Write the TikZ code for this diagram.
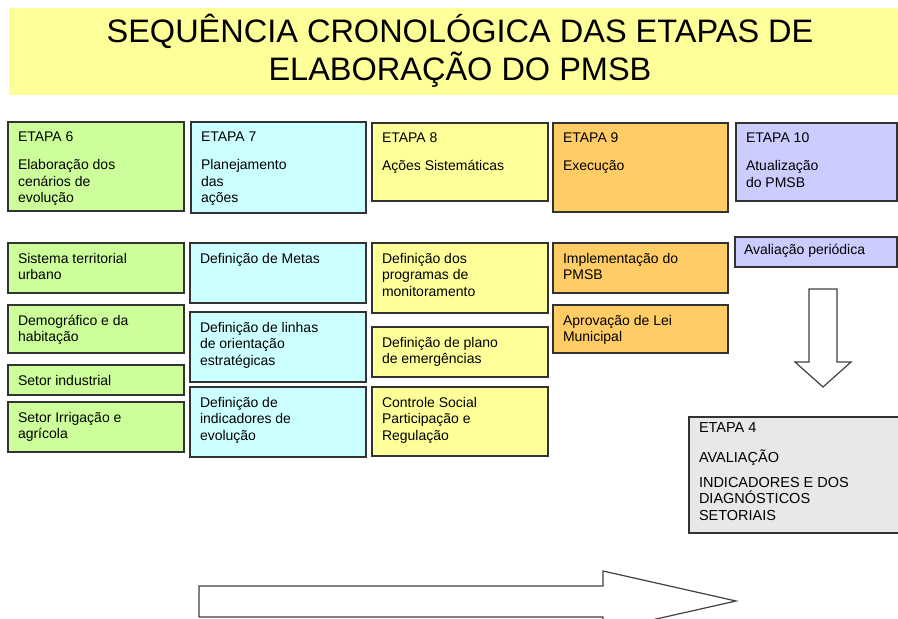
\documentclass[tikz,border=0pt]{standalone}
\usepackage{fontspec}
\setmainfont{Liberation Sans}
\definecolor{titleyel}{HTML}{FFFF99}
\definecolor{cgreen}{HTML}{CCFF99}
\definecolor{ccyan}{HTML}{CCFFFF}
\definecolor{cyel}{HTML}{FFFF99}
\definecolor{corange}{HTML}{FFCC66}
\definecolor{clav}{HTML}{CCCCFF}
\definecolor{cgray}{HTML}{E8E8E8}
\newcommand\mybox[7]{%
  \node[box, fill=#6, minimum width={(#4-#2)*1pt}, minimum height={(#5-#3)*1pt}] (#1) at (#2,#3) {};
  \node[txt] (#1t) at ([xshift=10pt,yshift=-10pt]#1.north west) {#7};
}
\begin{document}
\begin{tikzpicture}[x=1pt,y=-1pt,
  box/.style={draw=black!80, line width=1.1pt, inner sep=0pt, outer sep=0pt, anchor=north west},
  txt/.style={inner sep=0pt, outer sep=0pt, anchor=north west, align=left, font=\fontsize{14}{16.5}\selectfont},
  bigarrow/.style={draw=black!75, line width=1.2pt, fill=white, line join=miter},
  titletxt/.style={font=\fontsize{32.5}{38}\selectfont, anchor=base, inner sep=0pt}]
\useasboundingbox (0,0) rectangle (898,619);
\clip (0,0) rectangle (898,619);
\node[fill=titleyel, anchor=north west, inner sep=0pt, minimum width=889pt, minimum height=87pt] (band) at (9,8) {};
\node[titletxt] (t1) at (460,42) {SEQUÊNCIA CRONOLÓGICA DAS ETAPAS DE};
\node[titletxt] (t2) at (460,80) {ELABORAÇÃO DO PMSB};
% top row
\mybox{b6}{8}{122}{184}{211}{cgreen}{ETAPA 6\\[11.5pt]Elaboração dos\\cenários de\\evolução}
\mybox{b7}{191}{122}{366}{213}{ccyan}{ETAPA 7\\[11.5pt]Planejamento\\das\\ações}
\mybox{b8}{372}{123}{548}{201}{cyel}{ETAPA 8\\[11.5pt]Ações Sistemáticas}
\mybox{b9}{553}{123}{728}{212}{corange}{ETAPA 9\\[11.5pt]Execução}
\mybox{b10}{736}{123}{897}{201}{clav}{ETAPA 10\\[11.5pt]Atualização\\do PMSB}
% column 6
\mybox{g1}{8}{243}{184}{293}{cgreen}{Sistema territorial\\urbano}
\mybox{g2}{8}{305}{184}{353}{cgreen}{Demográfico e da\\habitação}
\mybox{g3}{8}{365}{184}{395}{cgreen}{Setor industrial}
\mybox{g4}{8}{402}{184}{452}{cgreen}{Setor Irrigação e\\agrícola}
% column 7
\mybox{c1}{190}{243}{366}{303}{ccyan}{Definição de Metas}
\mybox{c2}{190}{312}{366}{382}{ccyan}{Definição de linhas\\de orientação\\estratégicas}
\mybox{c3}{190}{387}{366}{457}{ccyan}{Definição de\\indicadores de\\evolução}
% column 8
\mybox{y1}{372}{243}{548}{313}{cyel}{Definição dos\\programas de\\monitoramento}
\mybox{y2}{372}{327}{548}{377}{cyel}{Definição de plano\\de emergências}
\mybox{y3}{372}{387}{548}{456}{cyel}{Controle Social\\Participação e\\Regulação}
% column 9
\mybox{o1}{553}{243}{728}{293}{corange}{Implementação do\\PMSB}
\mybox{o2}{553}{305}{728}{353}{corange}{Aprovação de Lei\\Municipal}
% column 10
\node[box, fill=clav, minimum width=162pt, minimum height=30pt] (l1) at (735,237) {};
\node[txt] (l1t) at ([xshift=9pt,yshift=-7pt]l1.north west) {Avaliação periódica};
% etapa 4
\node[box, fill=cgray, minimum width=215pt, minimum height=116pt] (e4) at (689,417) {};
\node[txt, font=\fontsize{14.5}{16.5}\selectfont] (e4t) at ([xshift=10pt,yshift=-6pt]e4.north west)
  {ETAPA 4\\[13.5pt]AVALIAÇÃO\\[8pt]INDICADORES E DOS\\DIAGNÓSTICOS\\SETORIAIS};
% arrows
\draw[bigarrow] (809,289) -- (837,289) -- (837,362) -- (851,362) -- (823,387) -- (795,362) -- (809,362) -- cycle;
\draw[bigarrow] (199,586) -- (603,586) -- (603,571) -- (736,601) -- (603,631) -- (603,617) -- (199,617) -- cycle;
\end{tikzpicture}
\end{document}
